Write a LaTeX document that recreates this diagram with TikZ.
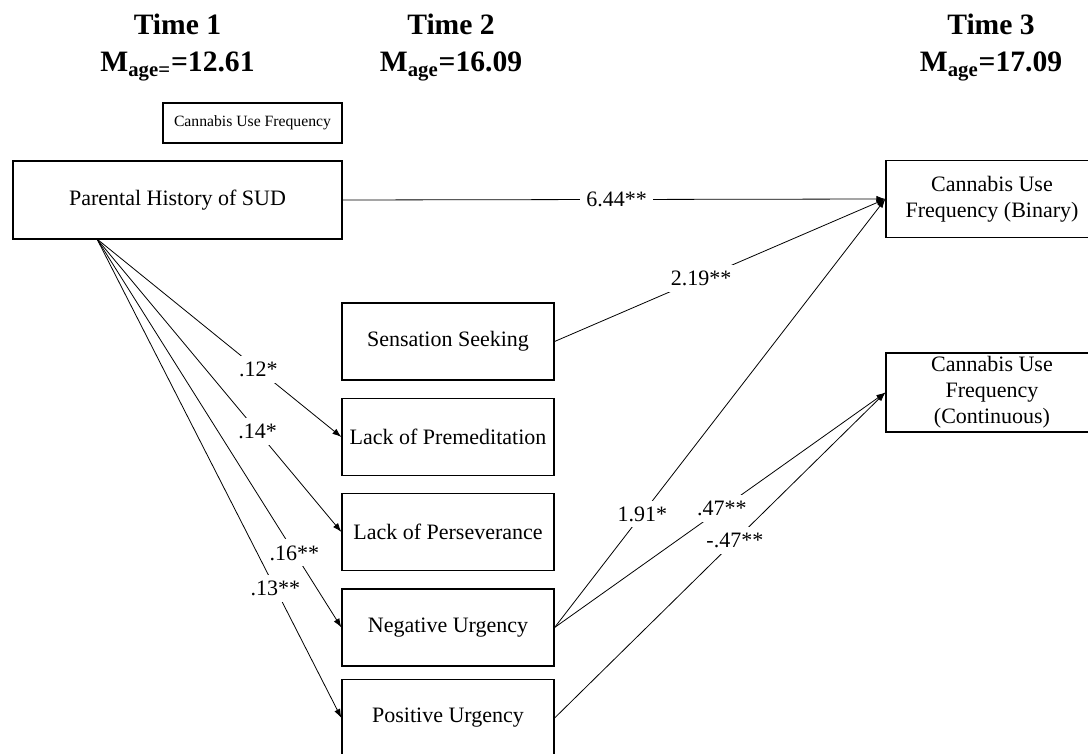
\documentclass[tikz,border=0pt]{standalone}
\usepackage{fontspec}
\setmainfont{Liberation Serif}
\usetikzlibrary{arrows.meta}
\usetikzlibrary{positioning}

\begin{document}
\begin{tikzpicture}[x=0.5pt,y=-0.5pt,
                every node/.style={font=\fontsize{11}{13}\selectfont},
                box/.style={draw,line width=0.6pt,minimum width=106pt,minimum height=38.5pt,inner sep=0pt,align=center},
                effect/.style={line width=0.4pt,-{Latex[length=4.5pt,width=3.2pt]}},
                coef/.style={fill=white,inner sep=3pt},
                timehead/.style={font=\bfseries\fontsize{14.8}{18.5}\selectfont,align=center,anchor=north,inner sep=0pt}]
             \useasboundingbox (0,0) rectangle (1088,754);
             \node[timehead] (t1) at (177.5,14) {Time 1\\M\textsubscript{age=}=12.61};
             \node[timehead] (t2) at (451,14) {Time 2\\M\textsubscript{age}=16.09};
             \node[timehead] (t3) at (991,14) {Time 3\\M\textsubscript{age}=17.09};

             \node[box,minimum width=89.5pt,minimum height=20pt,font=\fontsize{7.85}{9}\selectfont] (cuf) at (252.5,123) {Cannabis Use Frequency};
             \node[box,minimum width=164.5pt,minimum height=39pt] (par) at (177.5,200) {Parental History of SUD};
             \node[box] (ss) at (448,341.5) {Sensation Seeking};
             \node[box] (lpm) at (448,437) {Lack of Premeditation};
             \node[box] (lps) at (448,532) {Lack of Perseverance};
             \node[box] (nu) at (448,627.5) {Negative Urgency};
             \node[box] (pu) at (448,718) {Positive Urgency};
             \node[box] (bin) at (992,199) {Cannabis Use\\Frequency (Binary)};
             \node[box,minimum height=39.5pt] (con) at (992,392.5) {Cannabis Use\\Frequency\\(Continuous)};
             \coordinate (fan) at (97,239);

             \draw[effect] (par.east) -- node[coef,pos=0.505]{6.44**} (bin.west);
             \draw[effect] (ss.east) -- node[coef,pos=0.443]{2.19**} (bin.west);
             \draw[effect] (nu.east) -- node[coef,pos=0.265]{1.91*} (bin.west);
             \draw[effect] (nu.east) -- node[coef,pos=0.506]{.47**} (con.west);
             \draw[effect] (pu.east) -- node[coef,pos=0.545]{-.47**} (con.west);
             \draw[effect] (fan) -- node[coef,pos=0.66]{.12*} (lpm.west);
             \draw[effect] (fan) -- node[coef,pos=0.657]{.14*} (lps.west);
             \draw[effect] (fan) -- node[coef,pos=0.808]{.16**} (nu.west);
             \draw[effect] (fan) -- node[coef,pos=0.73]{.13**} (pu.west);
\end{tikzpicture}
\end{document}
